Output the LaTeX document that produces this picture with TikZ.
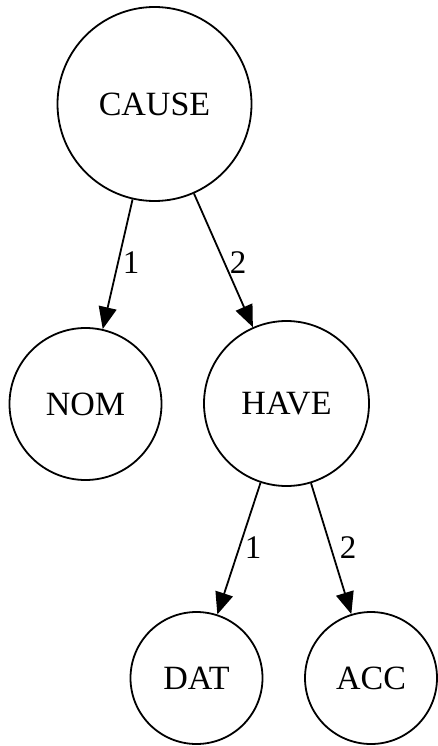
\documentclass[tikz,border=0pt]{standalone}
\usepackage{fontspec}
\setmainfont{Liberation Serif}
\usetikzlibrary{arrows.meta}
\begin{document}
\begin{tikzpicture}[x=1pt,y=-1pt,
  treenode/.style={circle,draw,line width=1.8pt,inner sep=0pt,
    font=\fontsize{34}{40}\selectfont},
  link/.style={line width=1.8pt,-{Triangle[length=22pt,width=18pt]}},
  lbl/.style={font=\fontsize{33}{40}\selectfont,inner sep=0pt}]
  \useasboundingbox (0,0) rectangle (438,746);
  \node[treenode,minimum size=194pt] (cause) at (154.5,104) {CAUSE};
  \node[treenode,minimum size=152pt] (nom) at (85.5,404) {NOM};
  \node[treenode,minimum size=165pt] (have) at (286.5,403.5) {HAVE};
  \node[treenode,minimum size=132pt] (dat) at (196.5,678) {DAT};
  \node[treenode,minimum size=132pt] (acc) at (371,678) {ACC};
  \draw[link] (cause) -- (nom);
  \draw[link] (cause) -- (have);
  \draw[link] (have) -- (dat);
  \draw[link] (have) -- (acc);
  \node[lbl] (l1) at (131,263) {1};
  \node[lbl] (l2) at (238,263) {2};
  \node[lbl] (l3) at (253,548) {1};
  \node[lbl] (l4) at (348,548) {2};
\end{tikzpicture}
\end{document}
